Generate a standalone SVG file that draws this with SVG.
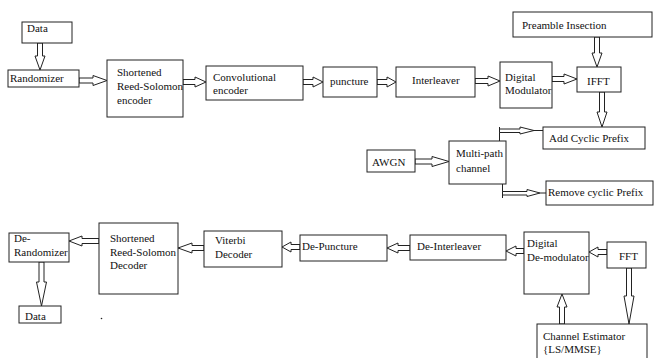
<svg xmlns="http://www.w3.org/2000/svg" width="655" height="358" viewBox="0 0 655 358">
<style>
.b{fill:#fff;stroke:#222;stroke-width:1}
.t{font-family:"Liberation Serif","Times New Roman",serif;font-size:11px;fill:#111}
.a{fill:#fff;stroke:#222;stroke-width:1;stroke-linejoin:miter}
.l{stroke:#222;stroke-width:1;fill:none}
</style>
<rect width="655" height="358" fill="#fff"/>
<g id="connectors">
<path class="a" d="M37.5 43 V56 H35 L40 70 L45 56 H42.5 V43 Z"/>
<path class="a" d="M79 78 H93 V75.5 L107 80.5 L93 85.5 V83 H79 Z"/>
<path class="a" d="M183 79.5 H195 V77 L206 82 L195 87 V84.5 H183 Z"/>
<path class="a" d="M303 79.5 H313 V77 L323 82 L313 87 V84.5 H303 Z"/>
<path class="a" d="M377 79.5 H387 V77 L396 82 L387 87 V84.5 H377 Z"/>
<path class="a" d="M475 78.5 H488 V76 L500 81 L488 86 V83.5 H475 Z"/>
<path class="a" d="M552 76.5 H564 V74 L577 79 L564 84 V81.5 H552 Z"/>
<path class="a" d="M594.5 37 V53 H592 L597 67 L602 53 H599.5 V37 Z"/>
<path class="a" d="M599.5 92 V112 H597 L602 127 L607 112 H604.5 V92 Z"/>
<path class="a" d="M415 159 H432 V156.5 L449 161.5 L432 166.5 V164 H415 Z"/>
<line class="l" x1="499.5" y1="127" x2="499.5" y2="141"/>
<path class="a" d="M499.5 129 H520 V127 L534 130.5 L520 134 V132.5 H499.5 Z"/>
<line class="l" x1="534" y1="130.5" x2="543" y2="130.5"/>
<line class="l" x1="502.5" y1="178" x2="502.5" y2="198"/>
<path class="a" d="M502.5 191.5 H527 V189.5 L540 193 L527 196.5 V195 H502.5 Z"/>
<line class="l" x1="540" y1="193" x2="546" y2="193"/>
<path class="a" d="M607 249.5 H598 V247 L589 252 L598 257 V254.5 H607 Z"/>
<path class="a" d="M626.5 268 V296 H624 L629 324 L634 296 H631.5 V268 Z"/>
<path class="a" d="M559.5 324 V307 H557 L562 294 L567 307 H564.5 V324 Z"/>
<path class="a" d="M524 248.5 H516 V246 L506 251 L516 256 V253.5 H524 Z"/>
<path class="a" d="M410 245.5 H398 V243 L387 248 L398 253 V250.5 H410 Z"/>
<path class="a" d="M300 244.5 H291 V242 L282 247 L291 252 V249.5 H300 Z"/>
<path class="a" d="M204 245.5 H192 V243 L178 248 L192 253 V250.5 H204 Z"/>
<path class="a" d="M99 238.5 H82 V236 L69 241 L82 246 V243.5 H99 Z"/>
<path class="a" d="M39 262 V282 H36.5 L41.5 306 L46.5 282 H44 V262 Z"/>
</g>
<g id="data-in"><rect class="b" x="22" y="22" width="50" height="21"/><text class="t" x="27" y="32">Data</text></g>
<g id="randomizer"><rect class="b" x="8" y="70" width="71" height="17"/><text class="t" x="10" y="82">Randomizer</text></g>
<g id="rs-encoder"><rect class="b" x="107" y="60" width="76" height="57"/><text class="t" x="117" y="76">Shortened</text><text class="t" x="117" y="90">Reed-Solomon</text><text class="t" x="117" y="104">encoder</text></g>
<g id="conv-encoder"><rect class="b" x="206" y="66" width="97" height="34"/><text class="t" x="213" y="81">Convolutional</text><text class="t" x="213" y="94">encoder</text></g>
<g id="puncture"><rect class="b" x="323" y="67" width="54" height="30"/><text class="t" x="330" y="85">puncture</text></g>
<g id="interleaver"><rect class="b" x="396" y="67" width="79" height="30"/><text class="t" x="412" y="84">Interleaver</text></g>
<g id="digital-modulator"><rect class="b" x="500" y="62" width="52" height="46"/><text class="t" x="505" y="81">Digital</text><text class="t" x="505" y="94">Modulator</text></g>
<g id="ifft"><rect class="b" x="577" y="67" width="44" height="25"/><text class="t" x="587" y="85">IFFT</text></g>
<g id="preamble"><rect class="b" x="513" y="12" width="139" height="25"/><text class="t" x="522" y="29">Preamble Insection</text></g>
<g id="add-cp"><rect class="b" x="543" y="127" width="102" height="22"/><text class="t" x="549" y="142">Add Cyclic Prefix</text></g>
<g id="awgn"><rect class="b" x="367" y="150" width="48" height="22"/><text class="t" x="372" y="166">AWGN</text></g>
<g id="multipath"><rect class="b" x="449" y="141" width="57" height="43"/><text class="t" x="456" y="157">Multi-path</text><text class="t" x="456" y="172">channel</text></g>
<g id="remove-cp"><rect class="b" x="546" y="181" width="107" height="24"/><text class="t" x="548" y="196">Remove cyclic Prefix</text></g>
<g id="de-randomizer"><rect class="b" x="9" y="233" width="60" height="29"/><text class="t" x="14" y="242">De-</text><text class="t" x="14" y="256">Randomizer</text></g>
<g id="rs-decoder"><rect class="b" x="99" y="223" width="79" height="71"/><text class="t" x="110" y="242">Shortened</text><text class="t" x="110" y="256">Reed-Solomon</text><text class="t" x="110" y="269">Decoder</text></g>
<g id="viterbi"><rect class="b" x="204" y="231" width="78" height="36"/><text class="t" x="215" y="244">Viterbi</text><text class="t" x="215" y="258">Decoder</text></g>
<g id="de-puncture"><rect class="b" x="300" y="235" width="87" height="26"/><text class="t" x="302" y="250">De-Puncture</text></g>
<g id="de-interleaver"><rect class="b" x="410" y="235" width="96" height="25"/><text class="t" x="417" y="250">De-Interleaver</text></g>
<g id="digital-demodulator"><rect class="b" x="524" y="232" width="65" height="62"/><text class="t" x="527" y="247">Digital</text><text class="t" x="527" y="261">De-modulator</text></g>
<g id="fft"><rect class="b" x="607" y="242" width="39" height="26"/><text class="t" x="619" y="260">FFT</text></g>
<g id="channel-estimator"><rect class="b" x="537" y="324" width="110" height="40"/><text class="t" x="543" y="340">Channel Estimator</text><text class="t" x="543" y="353">{LS/MMSE}</text></g>
<g id="data-out"><rect class="b" x="19" y="306" width="42" height="17"/><text class="t" x="25" y="320">Data</text></g>
<circle cx="101.5" cy="318.5" r="0.8" fill="#222"/>
</svg>
